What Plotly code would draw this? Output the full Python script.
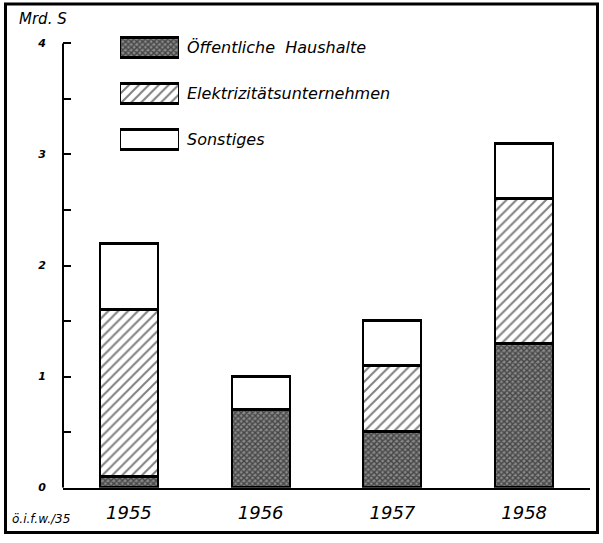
import plotly.graph_objects as go

years = ["1955", "1956", "1957", "1958"]
oeffentlich = [0.1, 0.7, 0.5, 1.3]
elektrizitaet = [1.5, 0.0, 0.6, 1.3]
sonstiges = [0.6, 0.3, 0.4, 0.5]
series_names = ["Öffentliche  Haushalte", "Elektrizitätsunternehmen", "Sonstiges"]
y_tickvals = [0, 0.5, 1, 1.5, 2, 2.5, 3, 3.5, 4]
y_ticktext = ["0", "", "1", "", "2", "", "3", "", "4"]

W, H = 603, 543
FONT = "DejaVu Sans"
LINE = dict(color="black", width=2.5)

def px(x):
    return x / W

def py(y):
    return (H - y) / H

patterns = [
    dict(shape="x", fgcolor="#000000", bgcolor="#8a8a8a", size=4, solidity=0.6),
    dict(shape="/", fgcolor="black", bgcolor="white", size=7, solidity=0.28),
    dict(shape="", bgcolor="white"),
]
colors = ["#8a8a8a", "white", "white"]
values = [oeffentlich, elektrizitaet, sonstiges]

fig = go.Figure()
for name, vals, pat, col in zip(series_names, values, patterns, colors):
    fig.add_trace(go.Bar(
        x=years, y=vals, name=name, width=0.44,
        marker=dict(color=col, pattern=pat, line=LINE),
        showlegend=False,
    ))

# legend swatches drawn on a helper axis
annotations = []
for i, (name, pat, col) in enumerate(zip(series_names, patterns, colors)):
    fig.add_trace(go.Bar(
        x=[1], y=[i], base=0, orientation="h", width=0.42,
        marker=dict(color=col, pattern=pat, line=LINE),
        xaxis="x2", yaxis="y2", showlegend=False, hoverinfo="skip",
    ))
    annotations.append(dict(
        x=px(185), y=i, xref="paper", yref="y2", text=name, showarrow=False,
        xanchor="left", yanchor="middle",
        font=dict(family=FONT, size=16, style="italic", color="black"),
    ))

annotations += [
    dict(x=px(17), y=py(19), xref="paper", yref="paper",
         text="Mrd. S", showarrow=False, xanchor="left", yanchor="middle",
         font=dict(family=FONT, size=15, style="italic", color="black")),
    dict(x=px(10), y=py(526), xref="paper", yref="paper",
         text="ö.i.f.w./35", showarrow=False, xanchor="left", yanchor="middle",
         font=dict(family=FONT, size=12, style="italic", color="black")),
]

ymax = (494 - 20) / 112.5
fig.update_layout(
    width=W, height=H,
    margin=dict(l=0, r=0, t=0, b=0),
    paper_bgcolor="white", plot_bgcolor="white",
    barmode="stack", bargap=0,
    font=dict(family=FONT, color="black"),
    xaxis=dict(
        domain=[px(63), px(590)],
        type="category", range=[-0.5, 3.5], showline=True, linecolor="black",
        linewidth=2, ticks="", showgrid=False, zeroline=False,
        tickfont=dict(family=FONT, size=18, style="italic", color="black"),
        ticklabelstandoff=8,
    ),
    yaxis=dict(
        domain=[py(494), py(20)],
        range=[0, ymax], showline=False, showgrid=False, zeroline=False,
        tickvals=y_tickvals, ticktext=y_ticktext, ticks="inside", ticklen=8,
        tickwidth=1.5, tickcolor="black", ticklabelstandoff=16,
        tickfont=dict(family=FONT, size=11, style="italic", weight="bold", color="black"),
    ),
    xaxis2=dict(domain=[px(120), px(179)], range=[0, 1], anchor="y2",
                visible=False, fixedrange=True),
    yaxis2=dict(domain=[py(165), py(25)], range=[2.5, -0.5], anchor="x2",
                visible=False, fixedrange=True),
    shapes=[
        dict(type="line", xref="paper", yref="y", x0=px(63), x1=px(63), y0=0, y1=4,
             line=dict(color="black", width=2)),
        dict(type="rect", xref="paper", yref="paper",
             x0=px(5.5), x1=px(597.5), y0=py(539.5), y1=py(4),
             line=dict(color="black", width=3)),
    ],
    annotations=annotations,
)

fig.write_html(
    "out.html",
    config={"displayModeBar": False},
    post_script="document.body.style.margin='0';document.body.style.overflow='hidden';",
)
